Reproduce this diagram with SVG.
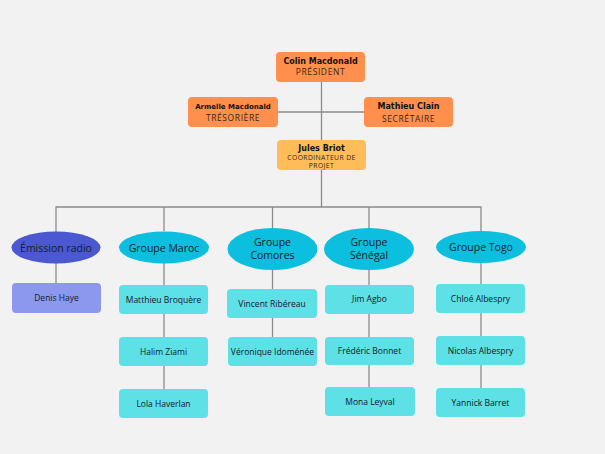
<svg xmlns="http://www.w3.org/2000/svg" width="605" height="454" viewBox="0 0 605 454">
<style>
.bg{fill:#f2f2f2}
.ln{stroke:#8a8a8a;stroke-width:1.3;fill:none}
.or{fill:#ff8f4c}
.ye{fill:#ffbd59}
.grp{fill:#0cbfde}
.rad{fill:#4b58cf}
.box{fill:#5de1e6}
.rbox{fill:#8c98ee}
.t{font-family:"Open Sans","Noto Sans",sans-serif;fill:#102028;text-anchor:middle}
.tb{font-family:"DejaVu Sans","Noto Sans",sans-serif;font-weight:bold;fill:#111;text-anchor:middle}
.role{font-size:8.5px;letter-spacing:0.6px;fill:#3a2518}
.name{font-size:8.5px}
.g{font-size:10.5px}
</style>
<rect class="bg" x="0" y="0" width="605" height="454"/>
<g id="connectors">
<line class="ln" x1="321.5" y1="82" x2="321.5" y2="140"/>
<line class="ln" x1="278" y1="112" x2="364" y2="112"/>
<line class="ln" x1="321.5" y1="170" x2="321.5" y2="207"/>
<polyline class="ln" points="56,232 56,207 481,207 481,231"/>
<line class="ln" x1="164" y1="207" x2="164" y2="231"/>
<line class="ln" x1="272.5" y1="207" x2="272.5" y2="228"/>
<line class="ln" x1="369" y1="207" x2="369" y2="228"/>
<line class="ln" x1="56" y1="263" x2="56" y2="283"/>
<line class="ln" x1="164" y1="263" x2="164" y2="389"/>
<line class="ln" x1="272.5" y1="270" x2="272.5" y2="337"/>
<line class="ln" x1="369" y1="270" x2="369" y2="387"/>
<line class="ln" x1="481" y1="263" x2="481" y2="388"/>
</g>
<g id="president">
<rect class="or" x="276" y="52" width="89" height="30" rx="4"/>
<text class="tb" x="320.5" y="63.5" font-size="8">Colin Macdonald</text>
<text class="t role" x="320.5" y="75">PRÉSIDENT</text>
</g>
<g id="tresoriere">
<rect class="or" x="188" y="97" width="90" height="30" rx="4"/>
<text class="tb" x="233" y="109" font-size="7">Armelle Macdonald</text>
<text class="t role" x="233" y="121">TRÉSORIÈRE</text>
</g>
<g id="secretaire">
<rect class="or" x="364" y="97" width="89" height="30" rx="4"/>
<text class="tb" x="408.5" y="109" font-size="8">Mathieu Clain</text>
<text class="t role" x="408.5" y="121.5">SECRÉTAIRE</text>
</g>
<g id="coordinateur">
<rect class="ye" x="277" y="140" width="89" height="30" rx="4"/>
<text class="tb" x="321.5" y="150.5" font-size="8">Jules Briot</text>
<text class="t" x="321.5" y="159.5" font-size="6.8" style="letter-spacing:0.4px;fill:#3a2518">COORDINATEUR DE</text>
<text class="t" x="321.5" y="167.5" font-size="6.8" style="letter-spacing:0.4px;fill:#3a2518">PROJET</text>
</g>
<g id="emission-radio">
<ellipse class="rad" cx="56" cy="247.5" rx="44.5" ry="16"/>
<text class="t g" x="56" y="251.5">Émission radio</text>
</g>
<g id="groupe-maroc">
<ellipse class="grp" cx="164" cy="247.5" rx="45" ry="16"/>
<text class="t g" x="164" y="251.5">Groupe Maroc</text>
</g>
<g id="groupe-comores">
<ellipse class="grp" cx="272.5" cy="249" rx="45" ry="21"/>
<text class="t g" x="272.5" y="246">Groupe</text>
<text class="t g" x="272.5" y="259">Comores</text>
</g>
<g id="groupe-senegal">
<ellipse class="grp" cx="369" cy="249" rx="45" ry="21"/>
<text class="t g" x="369" y="246">Groupe</text>
<text class="t g" x="369" y="259">Sénégal</text>
</g>
<g id="groupe-togo">
<ellipse class="grp" cx="481" cy="247" rx="45" ry="16"/>
<text class="t g" x="481" y="251">Groupe Togo</text>
</g>
<g id="denis-haye">
<rect class="rbox" x="12" y="283" width="89" height="30" rx="4"/>
<text class="t name" x="56.5" y="301">Denis Haye</text>
</g>
<g id="matthieu-broquere">
<rect class="box" x="119" y="285" width="89" height="29" rx="4"/>
<text class="t name" x="163.5" y="302.5">Matthieu Broquère</text>
</g>
<g id="halim-ziami">
<rect class="box" x="119" y="337" width="89" height="29" rx="4"/>
<text class="t name" x="163.5" y="354.5">Halim Ziami</text>
</g>
<g id="lola-haverlan">
<rect class="box" x="119" y="389" width="89" height="29" rx="4"/>
<text class="t name" x="163.5" y="406.5">Lola Haverlan</text>
</g>
<g id="vincent-ribereau">
<rect class="box" x="227" y="289" width="90" height="29" rx="4"/>
<text class="t name" x="272" y="306.5">Vincent Ribéreau</text>
</g>
<g id="veronique-idomenee">
<rect class="box" x="228" y="337" width="89" height="29" rx="4"/>
<text class="t name" x="272.5" y="354.5">Véronique Idoménée</text>
</g>
<g id="jim-agbo">
<rect class="box" x="325" y="285" width="89" height="29" rx="4"/>
<text class="t name" x="369.5" y="302">Jim Agbo</text>
</g>
<g id="frederic-bonnet">
<rect class="box" x="325" y="337" width="89" height="28" rx="4"/>
<text class="t name" x="369.5" y="354">Frédéric Bonnet</text>
</g>
<g id="mona-leyval">
<rect class="box" x="325" y="387" width="90" height="29" rx="4"/>
<text class="t name" x="370" y="404.5">Mona Leyval</text>
</g>
<g id="chloe-albespry">
<rect class="box" x="436" y="284" width="89" height="29" rx="4"/>
<text class="t name" x="480.5" y="301.5">Chloé Albespry</text>
</g>
<g id="nicolas-albespry">
<rect class="box" x="436" y="336" width="89" height="29" rx="4"/>
<text class="t name" x="480.5" y="353.5">Nicolas Albespry</text>
</g>
<g id="yannick-barret">
<rect class="box" x="436" y="388" width="89" height="29" rx="4"/>
<text class="t name" x="480.5" y="405.5">Yannick Barret</text>
</g>
</svg>
